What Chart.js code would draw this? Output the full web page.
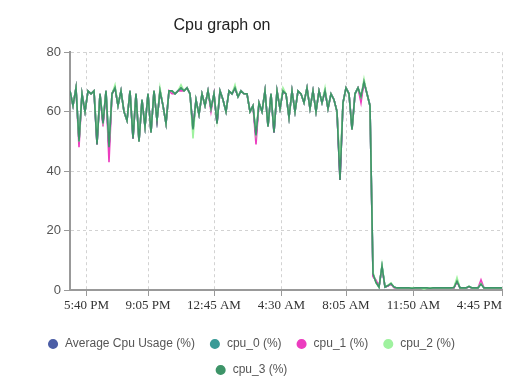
<!DOCTYPE html>
<html lang="en">
<head>
  <meta charset="UTF-8" />
  <title>Cpu graph on</title>
  <script src="https://cdn.jsdelivr.net/npm/chart.js"></script>
  <style>
    html, body { margin: 0; padding: 0; background: #fff; }
  </style>
</head>
<body>
  <canvas id="cpuChart" width="514" height="390"></canvas>

  <script>
    // one sample every 10 minutes, first sample at 4:45 PM
    const STEP_MIN = 10;

    const avgUsage = [
      67,62,68,50,66,60,67,66,67,49.5,
      66,56,67,47,66,68,62,67,60,57,
      67,51,66,50,64,55,66,53,67,57,
      67,62,56,67,67,66,67,68,67,68,
      66,53.5,64,59,66,62,67,61,66,56,
      67,64,60,67,66,68,65,67,66,66,
      60,62,51.5,63,60,67,55,66,53,67,
      61,67,66,58,67,60,67,66,63,68,
      61,67,60,67,63,67,61,66,64,60,
      38,63,68,66,54,66,68,64.5,70,66,
      62,5.2,2.8,1,8,1,1.4,2.1,0.9,0.7,
      0.7,0.7,0.7,0.7,0.7,0.7,0.7,0.7,0.6,0.7,
      0.7,0.7,0.7,0.7,0.7,0.7,0.7,0.7,0.8,3.3,
      0.7,0.7,0.7,1.1,0.7,0.7,0.7,2.4,0.7,0.7,
      0.7,0.7,0.7,0.7,0.7
    ];
    const cpu0 = [
      67,62,68,50,66,60,67,66,67,49,
      66,56,67,48,66,68,62,67,60,57,
      67,51,66,50,64,55,66,53,67,57,
      67,62,56,67,67,66,67,68,67,68,
      66,54,64,59,66,62,67,61,66,56,
      67,64,60,67,66,68,65,67,66,66,
      60,62,52,63,60,67,55,66,53,67,
      61,67,66,58,67,60,67,66,63,68,
      61,67,60,67,63,67,61,66,64,60,
      37,63,68,66,54,66,68,65,70,66,
      62,5,2.8,1,7.8,1,1.4,2,0.9,0.7,
      0.7,0.7,0.7,0.7,0.7,0.7,0.7,0.7,0.6,0.7,
      0.7,0.7,0.7,0.7,0.7,0.7,0.7,0.7,0.8,3.2,
      0.7,0.7,0.7,1.1,0.7,0.7,0.7,2.2,0.7,0.7,
      0.7,0.7,0.7,0.7,0.7
    ];
    const cpu1 = [
      67,62,68,48,66,60,67,66,67,49,
      66,55,67,43,66,68,62,67,60,57,
      67,51,66,50,64,55,66,53,67,57,
      67,62,56,67,66,66,67,67,67,68,
      66,54,64,59,66,62,67,60,66,56,
      67,64,60,67,66,68,65,67,66,66,
      60,62,49,63,60,67,55,66,53,67,
      61,67,66,58,67,60,67,66,63,68,
      61,67,60,67,63,67,61,66,64,60,
      37,63,68,66,54,66,68,63,70,66,
      62,4.5,3.4,1.2,7.5,1,1.3,2,0.8,0.7,
      0.7,0.7,0.7,0.7,0.7,0.7,0.7,0.7,0.7,0.7,
      0.7,0.7,0.7,0.7,0.7,0.7,0.7,0.7,0.7,2.8,
      0.7,0.7,0.7,1,0.7,0.7,0.7,3.4,0.7,0.7,
      0.7,0.7,0.7,0.7,0.7
    ];
    const cpu2 = [
      67,62,68,50,66,60,67,66,67,51,
      66,57,67,49,66,69,62,67,60,57,
      67,52,66,50,64,55,66,53,67,57,
      68,62,56,67,67,66,67,69,67,68,
      66,51,64,59,66,62,67,61,66,57,
      67,64,60,67,66,69,65,67,66,66,
      60,62,53,63,60,67,55,66,54,67,
      61,68,66,58,67,60,67,66,63,68,
      61,67,60,67,63,68,61,66,64,60,
      42,63,68,66,54,66,68,65,71,66,
      62,6,2.4,0.9,8.5,1.1,1.6,2.4,1,0.7,
      0.7,0.7,0.7,0.7,0.7,0.7,0.7,0.7,0.3,0.7,
      0.7,0.7,0.7,0.7,0.7,0.7,0.7,0.7,0.9,4.2,
      0.7,0.7,0.7,1.3,0.7,0.7,0.7,2.2,0.7,0.7,
      0.7,0.7,0.7,0.7,0.7
    ];
    const cpu3 = [
      67,62,68,50,66,60,67,66,67,49,
      66,56,67,48,66,68,62,67,60,57,
      67,51,66,50,64,55,66,53,67,57,
      67,62,56,67,67,66,67,68,67,68,
      66,54,64,59,66,62,67,61,66,56,
      67,64,60,67,66,68,65,67,66,66,
      60,62,52,63,60,67,55,66,53,67,
      61,67,66,58,67,60,67,66,63,68,
      61,67,60,67,63,67,61,66,64,60,
      37,63,68,66,54,66,68,65,70,66,
      62,5.5,2.5,1,8,1,1.5,2.2,1,0.7,
      0.7,0.7,0.7,0.7,0.6,0.7,0.7,0.7,0.7,0.7,
      0.6,0.7,0.7,0.7,0.7,0.7,0.7,0.7,0.8,3,
      0.7,0.7,0.7,1.2,0.7,0.7,0.7,2,0.7,0.7,
      0.7,0.7,0.7,0.7,0.7
    ];

    // x ticks, minutes after 4:45 PM (first one is a blank spacer at the axis start)
    const tickMinutes = [0, 55, 260, 480, 705, 920, 1145, 1440];
    const tickLabels = ['', '5:40 PM', '9:05 PM', '12:45 AM', '4:30 AM', '8:05 AM', '11:50 AM', '4:45 PM'];

    const minutes = cpu3.map((_, i) => i * STEP_MIN);

    const GRID = '#d2d2d2';
    const AXIS = '#999';

    function series(label, data, color, order) {
      return {
        label, data, order,
        borderColor: color,
        backgroundColor: color,
        borderWidth: 1.6,
        pointRadius: 0,
        tension: 0
      };
    }

    // nudge title to the left like in the original page
    const titleShift = {
      id: 'titleShift',
      afterLayout(chart) {
        const t = chart.titleBlock;
        if (t) { t.left -= 29; t.right -= 29; }
      }
    };

    new Chart(document.getElementById('cpuChart'), {
      type: 'line',
      data: {
        labels: minutes,
        datasets: [
          series('Average Cpu Usage (%)', avgUsage, '#4c5ea6', 4),
          series('cpu_0 (%)', cpu0, '#3a9b97', 3),
          series('cpu_1 (%)', cpu1, '#ec3dbf', 2),
          series('cpu_2 (%)', cpu2, '#9ff29f', 1),
          series('cpu_3 (%)', cpu3, '#3d9468', 0)
        ]
      },
      options: {
        responsive: false,
        animation: false,
        devicePixelRatio: 1,
        layout: { padding: { left: 0, right: 12, top: 0, bottom: 4 } },
        plugins: {
          title: {
            display: true,
            text: 'Cpu graph on',
            color: '#222',
            font: { family: 'Liberation Sans', size: 16, weight: 'normal' },
            padding: { top: 16, bottom: 17 }
          },
          legend: {
            position: 'bottom',
            labels: {
              usePointStyle: true,
              pointStyle: 'circle',
              boxWidth: 12,
              boxHeight: 6,
              padding: 14,
              color: '#555',
              font: { family: 'Liberation Sans', size: 12 },
              sort: (a, b) => a.datasetIndex - b.datasetIndex
            }
          },
          tooltip: { enabled: false }
        },
        scales: {
          x: {
            type: 'linear',
            min: 0,
            max: 1440,
            afterBuildTicks: s => { s.ticks = tickMinutes.map(v => ({ value: v })); },
            afterFit: s => { s.height = 34; s.paddingLeft = 0; s.paddingRight = 0; },
            ticks: {
              autoSkip: false,
              maxRotation: 0,
              align: 'inner',
              padding: 2,
              color: '#333',
              font: { family: 'Liberation Serif', size: 13 },
              callback: (v, i) => tickLabels[i]
            },
            grid: {
              color: c => c.index === 0 ? 'rgba(0,0,0,0)' : GRID,
              tickColor: c => c.index === 0 ? 'rgba(0,0,0,0)' : AXIS,
              tickLength: 6
            },
            border: { color: AXIS, width: 2, dash: [3, 3] }
          },
          y: {
            min: 0,
            max: 80,
            afterFit: s => { s.width = 70; },
            ticks: {
              stepSize: 20,
              padding: 3,
              color: '#555',
              font: { family: 'Liberation Sans', size: 13 }
            },
            grid: {
              color: c => c.tick && c.tick.value === 0 ? 'rgba(0,0,0,0)' : GRID,
              tickColor: AXIS,
              tickLength: 6
            },
            border: { color: AXIS, width: 2, dash: [3, 3] }
          }
        }
      },
      plugins: [titleShift]
    });
  </script>
</body>
</html>
